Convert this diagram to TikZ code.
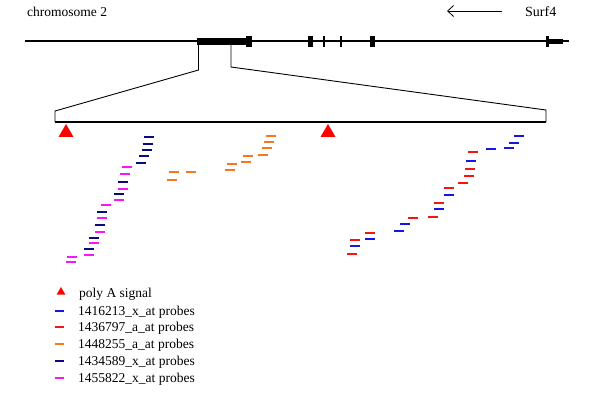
\documentclass[tikz,border=0pt]{standalone}
\usepackage{fontspec}
\setmainfont{Liberation Serif}
\usetikzlibrary{arrows.meta,shapes.geometric}
\definecolor{pblue}{RGB}{20,20,235}
\definecolor{pred}{RGB}{245,20,20}
\definecolor{porange}{RGB}{245,120,30}
\definecolor{pnavy}{RGB}{10,10,120}
\definecolor{pmag}{RGB}{250,20,250}
\begin{document}
\begin{tikzpicture}[x=1pt,y=-1pt,
  lbl/.style={font=\fontsize{13.5}{16}\selectfont, inner sep=0pt, anchor=west},
  probe/.style={line width=2.4pt},
  polyA/.style={regular polygon, regular polygon sides=3, fill=red, draw=none, inner sep=0pt, minimum size=17pt},
  polyAsmall/.style={polyA, minimum size=10pt},
  chrom/.style={line width=2pt},
  zoomline/.style={line width=0.9pt}]
\useasboundingbox (0,0) rectangle (601,394);
% header
\node[lbl] (chr) at (27,12) {chromosome 2};
\node[lbl,font=\fontsize{14}{16}\selectfont] (surf) at (525,12) {Surf4};
\coordinate (arS) at (502,11);
\coordinate (arE) at (447,11);
\draw[line width=0.8pt,-{Straight Barb[length=6pt,width=11pt]}] (arS) -- (arE);
% chromosome line
\coordinate (cL) at (25,41);
\coordinate (cR) at (569,41);
\draw[chrom] (cL) -- (cR);
\fill (197,38.3) rectangle (247,44.5);
\fill (246,35.5) rectangle (251.5,47);
\fill (308,35.5) rectangle (312.5,47);
\fill (323,35.5) rectangle (325,47);
\fill (340,35.5) rectangle (342,47);
\fill (370,35.5) rectangle (374.5,47);
\fill (546,35.5) rectangle (549,47);
\fill (548,38.5) rectangle (563,44);
% zoom lines
\coordinate (z1) at (198.5,44);
\coordinate (z2) at (198.5,70);
\coordinate (z3) at (55,111);
\coordinate (bL) at (55,122);
\coordinate (w1) at (231,44);
\coordinate (w2) at (231,67);
\coordinate (w3) at (546,110);
\coordinate (bR) at (546,122);
\draw[zoomline] (z1) -- (z2) -- (z3) -- (bL);
\draw[zoomline] (w1) -- (w2) -- (w3) -- (bR);
\draw[chrom] (bL) -- (bR);
% poly A triangles
\node[polyA] (pa1) at (66,132.5) {};
\node[polyA] (pa2) at (328,132.5) {};
% probes
\foreach \x/\y in {144/137,143/144,142/150,139/156,136/163,118/182,114/194,97/212,95/225,89/238,84/249}
  \draw[probe,pnavy] (\x,\y) -- ++(10,0);
\foreach \x/\y in {122/167,120/174,118/189,114/200,101/205,97/218,95/232,89/243,84/255,67/257,66/262}
  \draw[probe,pmag] (\x,\y) -- ++(10,0);
\foreach \x/\y in {169/172,186/172,167/180,227/164,225/170,241/162,243/156,258/155,262/148,264/142,266/136}
  \draw[probe,porange] (\x,\y) -- ++(10,0);
\foreach \x/\y in {514/136,509/143,504/148,486/149,466/161,444/195,434/209,400/224,394/231,365/239,350/246}
  \draw[probe,pblue] (\x,\y) -- ++(10,0);
\foreach \x/\y in {468/152,465/169,464/176,458/183,444/188,434/203,428/217,408/218,365/233,350/240,347/254}
  \draw[probe,pred] (\x,\y) -- ++(10,0);
% legend
\node[polyAsmall] (lgA) at (61,292) {};
\node[lbl] (lgAt) at (79,294) {poly A signal};
\foreach \c/\y/\t [count=\i] in {pblue/311/1416213\_x\_at probes,pred/327/1436797\_a\_at probes,porange/344/1448255\_a\_at probes,pnavy/361/1434589\_x\_at probes,pmag/378/1455822\_x\_at probes}{
  \coordinate (ld\i) at (55,\y);
  \draw[probe,\c,line width=2.2pt] (ld\i) -- ++(9,0);
  \node[lbl] (lt\i) at (78,\y+1.5) {\t};
}
\end{tikzpicture}
\end{document}
